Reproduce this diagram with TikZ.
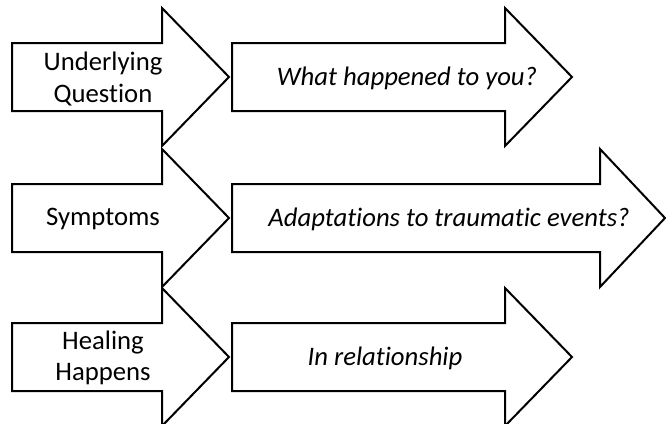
\documentclass[tikz,border=0pt]{standalone}
\usepackage{fontspec}
\setmainfont{Carlito}[Ligatures=NoCommon]
\usepackage{tikz}
\usetikzlibrary{calc, positioning}
\tikzset{
  font=\fontsize{26.7}{31.5}\selectfont,
  % Block arrow outline
  blk/.style={draw, line width=2pt, fill=white, line join=miter},
  % Text on the left arrows
  cue/.style={align=center, inner sep=0pt},
  % Text on the right arrows
  ans/.style={inner sep=0pt, font=\fontsize{26.7}{31.5}\selectfont\itshape},
}
% block arrow: left x, head base x, tip x, middle y
\newcommand{\blockarrow}[4]{%
  \draw[blk] (#1,#4-34) -- (#2,#4-34) -- (#2,#4-69) -- (#3,#4)
  -- (#2,#4+69) -- (#2,#4+34) -- (#1,#4+34) -- cycle;}

\begin{document}
\begin{tikzpicture}[x=1pt, y=-1pt]
      \useasboundingbox (0,0) rectangle (666,423);

      \blockarrow{12}{162}{229}{77}
      \blockarrow{12}{162}{229}{218}
      \blockarrow{12}{162}{229}{357}

      \blockarrow{232}{505}{572}{77}
      \blockarrow{232}{600}{665}{218}
      \blockarrow{232}{505}{572}{357}

      \node[cue] (q) at (103,79) {Underlying\\Question};
      \node[cue] (s) at (103,219) {Symptoms};
      \node[cue] (h) at (103,358) {Healing\\Happens};

      \node[ans] (qa) at (407,78) {What happened to you?};
      \node[ans] (sa) at (449,219) {Adaptations to traumatic events?};
      \node[ans] (ha) at (385,358) {In relationship};
    \end{tikzpicture}
\end{document}
